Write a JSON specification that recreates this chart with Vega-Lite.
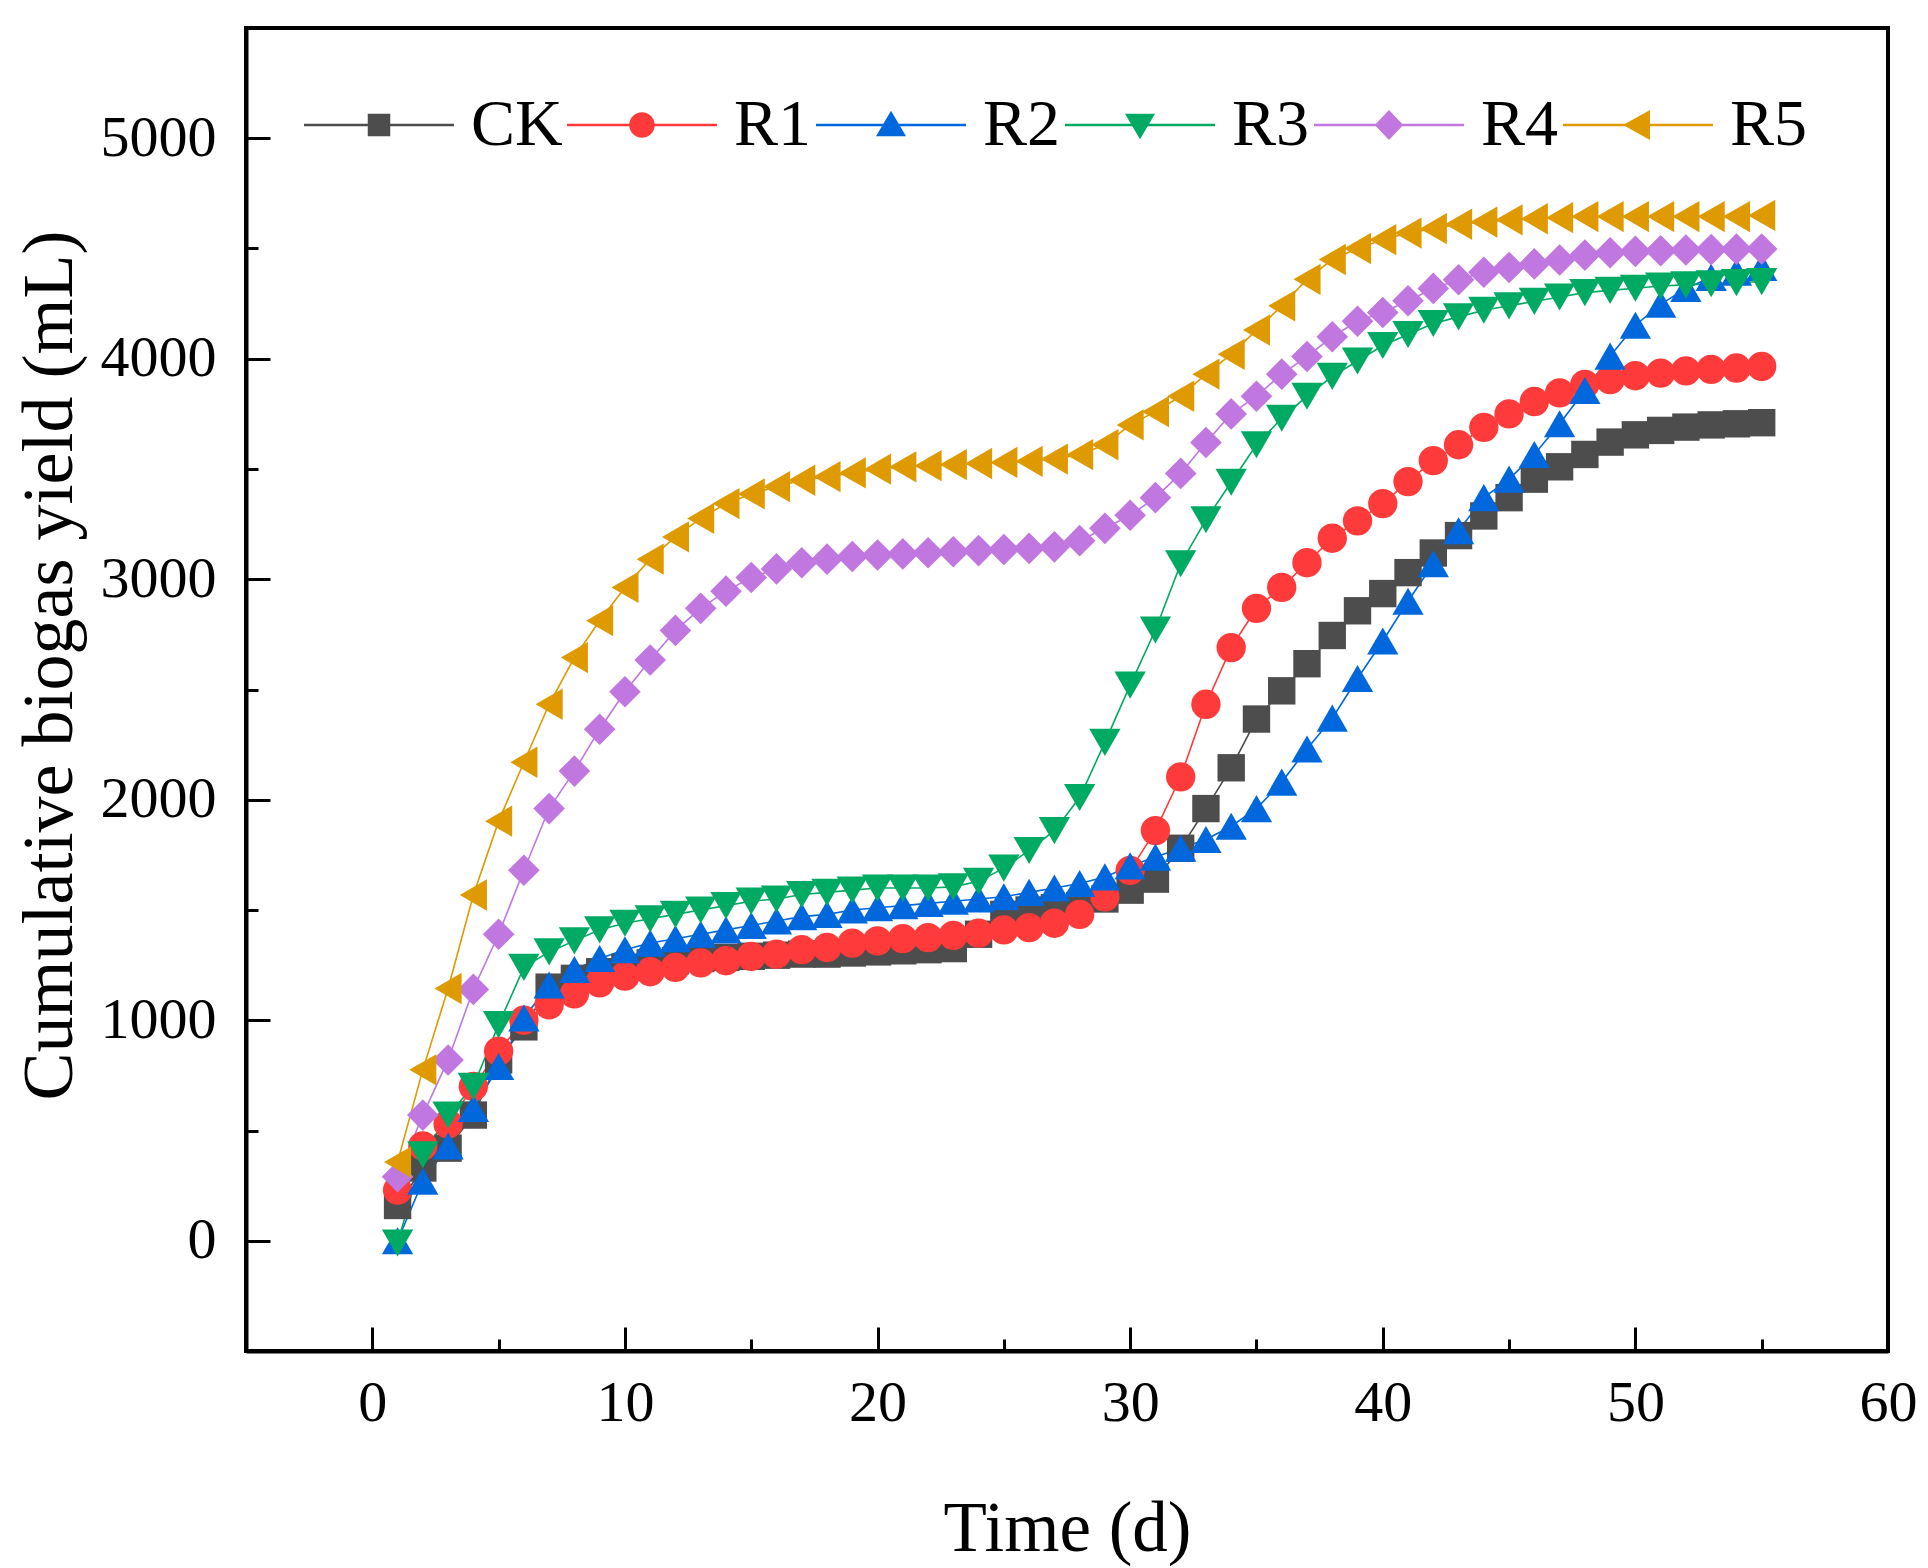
{
  "$schema": "https://vega.github.io/schema/vega-lite/v6.json",
  "width": 1642,
  "height": 1323,
  "autosize": {"type": "none"},
  "padding": {"left": 246, "top": 28, "right": 40, "bottom": 217},
  "background": "white",
  "config": {
    "view": {"stroke": "black", "strokeWidth": 4},
    "font": "Liberation Serif",
    "axis": {
      "grid": false,
      "domainColor": "black",
      "domainWidth": 4,
      "tickColor": "black",
      "tickWidth": 3,
      "labelFont": "Liberation Serif",
      "labelFontSize": 58,
      "labelColor": "black",
      "labelFlush": false,
      "labelOverlap": false,
      "labelBound": false,
      "titleFont": "Liberation Serif",
      "titleFontSize": 71,
      "titleFontWeight": "normal",
      "titleColor": "black"
    },
    "legend": {
      "labelFont": "Liberation Serif",
      "labelFontSize": 66,
      "labelColor": "black"
    }
  },
  "data": {
    "values": [
      {"series": "CK", "day": 1, "yield": 160}, {"series": "CK", "day": 2, "yield": 330}, {"series": "CK", "day": 3, "yield": 420}, {"series": "CK", "day": 4, "yield": 570}, {"series": "CK", "day": 5, "yield": 820},
      {"series": "CK", "day": 6, "yield": 970}, {"series": "CK", "day": 7, "yield": 1150}, {"series": "CK", "day": 8, "yield": 1190}, {"series": "CK", "day": 9, "yield": 1220}, {"series": "CK", "day": 10, "yield": 1240},
      {"series": "CK", "day": 11, "yield": 1260}, {"series": "CK", "day": 12, "yield": 1270}, {"series": "CK", "day": 13, "yield": 1280}, {"series": "CK", "day": 14, "yield": 1285}, {"series": "CK", "day": 15, "yield": 1290},
      {"series": "CK", "day": 16, "yield": 1295}, {"series": "CK", "day": 17, "yield": 1300}, {"series": "CK", "day": 18, "yield": 1300}, {"series": "CK", "day": 19, "yield": 1305}, {"series": "CK", "day": 20, "yield": 1310},
      {"series": "CK", "day": 21, "yield": 1315}, {"series": "CK", "day": 22, "yield": 1320}, {"series": "CK", "day": 23, "yield": 1325}, {"series": "CK", "day": 24, "yield": 1390}, {"series": "CK", "day": 25, "yield": 1480},
      {"series": "CK", "day": 26, "yield": 1500}, {"series": "CK", "day": 27, "yield": 1510}, {"series": "CK", "day": 28, "yield": 1520}, {"series": "CK", "day": 29, "yield": 1550}, {"series": "CK", "day": 30, "yield": 1590},
      {"series": "CK", "day": 31, "yield": 1640}, {"series": "CK", "day": 32, "yield": 1780}, {"series": "CK", "day": 33, "yield": 1960}, {"series": "CK", "day": 34, "yield": 2145}, {"series": "CK", "day": 35, "yield": 2366},
      {"series": "CK", "day": 36, "yield": 2494}, {"series": "CK", "day": 37, "yield": 2617}, {"series": "CK", "day": 38, "yield": 2745}, {"series": "CK", "day": 39, "yield": 2857}, {"series": "CK", "day": 40, "yield": 2935},
      {"series": "CK", "day": 41, "yield": 3030}, {"series": "CK", "day": 42, "yield": 3119}, {"series": "CK", "day": 43, "yield": 3198}, {"series": "CK", "day": 44, "yield": 3287}, {"series": "CK", "day": 45, "yield": 3370},
      {"series": "CK", "day": 46, "yield": 3454}, {"series": "CK", "day": 47, "yield": 3510}, {"series": "CK", "day": 48, "yield": 3566}, {"series": "CK", "day": 49, "yield": 3622}, {"series": "CK", "day": 50, "yield": 3655},
      {"series": "CK", "day": 51, "yield": 3675}, {"series": "CK", "day": 52, "yield": 3690}, {"series": "CK", "day": 53, "yield": 3700}, {"series": "CK", "day": 54, "yield": 3705}, {"series": "CK", "day": 55, "yield": 3710},

      {"series": "R1", "day": 1, "yield": 230}, {"series": "R1", "day": 2, "yield": 430}, {"series": "R1", "day": 3, "yield": 530}, {"series": "R1", "day": 4, "yield": 700}, {"series": "R1", "day": 5, "yield": 860},
      {"series": "R1", "day": 6, "yield": 1000}, {"series": "R1", "day": 7, "yield": 1070}, {"series": "R1", "day": 8, "yield": 1120}, {"series": "R1", "day": 9, "yield": 1170}, {"series": "R1", "day": 10, "yield": 1200},
      {"series": "R1", "day": 11, "yield": 1220}, {"series": "R1", "day": 12, "yield": 1240}, {"series": "R1", "day": 13, "yield": 1260}, {"series": "R1", "day": 14, "yield": 1270}, {"series": "R1", "day": 15, "yield": 1290},
      {"series": "R1", "day": 16, "yield": 1300}, {"series": "R1", "day": 17, "yield": 1320}, {"series": "R1", "day": 18, "yield": 1330}, {"series": "R1", "day": 19, "yield": 1350}, {"series": "R1", "day": 20, "yield": 1360},
      {"series": "R1", "day": 21, "yield": 1370}, {"series": "R1", "day": 22, "yield": 1375}, {"series": "R1", "day": 23, "yield": 1385}, {"series": "R1", "day": 24, "yield": 1395}, {"series": "R1", "day": 25, "yield": 1410},
      {"series": "R1", "day": 26, "yield": 1420}, {"series": "R1", "day": 27, "yield": 1440}, {"series": "R1", "day": 28, "yield": 1480}, {"series": "R1", "day": 29, "yield": 1560}, {"series": "R1", "day": 30, "yield": 1680},
      {"series": "R1", "day": 31, "yield": 1860}, {"series": "R1", "day": 32, "yield": 2104}, {"series": "R1", "day": 33, "yield": 2433}, {"series": "R1", "day": 34, "yield": 2690}, {"series": "R1", "day": 35, "yield": 2868},
      {"series": "R1", "day": 36, "yield": 2963}, {"series": "R1", "day": 37, "yield": 3075}, {"series": "R1", "day": 38, "yield": 3186}, {"series": "R1", "day": 39, "yield": 3265}, {"series": "R1", "day": 40, "yield": 3343},
      {"series": "R1", "day": 41, "yield": 3443}, {"series": "R1", "day": 42, "yield": 3538}, {"series": "R1", "day": 43, "yield": 3610}, {"series": "R1", "day": 44, "yield": 3689}, {"series": "R1", "day": 45, "yield": 3750},
      {"series": "R1", "day": 46, "yield": 3806}, {"series": "R1", "day": 47, "yield": 3845}, {"series": "R1", "day": 48, "yield": 3884}, {"series": "R1", "day": 49, "yield": 3905}, {"series": "R1", "day": 50, "yield": 3923},
      {"series": "R1", "day": 51, "yield": 3935}, {"series": "R1", "day": 52, "yield": 3945}, {"series": "R1", "day": 53, "yield": 3952}, {"series": "R1", "day": 54, "yield": 3958}, {"series": "R1", "day": 55, "yield": 3965},

      {"series": "R2", "day": 1, "yield": 0}, {"series": "R2", "day": 2, "yield": 270}, {"series": "R2", "day": 3, "yield": 430}, {"series": "R2", "day": 4, "yield": 600}, {"series": "R2", "day": 5, "yield": 790},
      {"series": "R2", "day": 6, "yield": 1010}, {"series": "R2", "day": 7, "yield": 1160}, {"series": "R2", "day": 8, "yield": 1230}, {"series": "R2", "day": 9, "yield": 1280}, {"series": "R2", "day": 10, "yield": 1320},
      {"series": "R2", "day": 11, "yield": 1350}, {"series": "R2", "day": 12, "yield": 1370}, {"series": "R2", "day": 13, "yield": 1390}, {"series": "R2", "day": 14, "yield": 1410}, {"series": "R2", "day": 15, "yield": 1430},
      {"series": "R2", "day": 16, "yield": 1450}, {"series": "R2", "day": 17, "yield": 1470}, {"series": "R2", "day": 18, "yield": 1480}, {"series": "R2", "day": 19, "yield": 1500}, {"series": "R2", "day": 20, "yield": 1510},
      {"series": "R2", "day": 21, "yield": 1520}, {"series": "R2", "day": 22, "yield": 1530}, {"series": "R2", "day": 23, "yield": 1540}, {"series": "R2", "day": 24, "yield": 1550}, {"series": "R2", "day": 25, "yield": 1560},
      {"series": "R2", "day": 26, "yield": 1580}, {"series": "R2", "day": 27, "yield": 1600}, {"series": "R2", "day": 28, "yield": 1620}, {"series": "R2", "day": 29, "yield": 1650}, {"series": "R2", "day": 30, "yield": 1700},
      {"series": "R2", "day": 31, "yield": 1740}, {"series": "R2", "day": 32, "yield": 1780}, {"series": "R2", "day": 33, "yield": 1820}, {"series": "R2", "day": 34, "yield": 1880}, {"series": "R2", "day": 35, "yield": 1960},
      {"series": "R2", "day": 36, "yield": 2080}, {"series": "R2", "day": 37, "yield": 2230}, {"series": "R2", "day": 38, "yield": 2370}, {"series": "R2", "day": 39, "yield": 2550}, {"series": "R2", "day": 40, "yield": 2720},
      {"series": "R2", "day": 41, "yield": 2900}, {"series": "R2", "day": 42, "yield": 3070}, {"series": "R2", "day": 43, "yield": 3220}, {"series": "R2", "day": 44, "yield": 3370}, {"series": "R2", "day": 45, "yield": 3454},
      {"series": "R2", "day": 46, "yield": 3566}, {"series": "R2", "day": 47, "yield": 3705}, {"series": "R2", "day": 48, "yield": 3856}, {"series": "R2", "day": 49, "yield": 4012}, {"series": "R2", "day": 50, "yield": 4152},
      {"series": "R2", "day": 51, "yield": 4247}, {"series": "R2", "day": 52, "yield": 4319}, {"series": "R2", "day": 53, "yield": 4369}, {"series": "R2", "day": 54, "yield": 4392}, {"series": "R2", "day": 55, "yield": 4414},

      {"series": "R3", "day": 1, "yield": -10}, {"series": "R3", "day": 2, "yield": 390}, {"series": "R3", "day": 3, "yield": 570}, {"series": "R3", "day": 4, "yield": 700}, {"series": "R3", "day": 5, "yield": 980},
      {"series": "R3", "day": 6, "yield": 1240}, {"series": "R3", "day": 7, "yield": 1310}, {"series": "R3", "day": 8, "yield": 1360}, {"series": "R3", "day": 9, "yield": 1410}, {"series": "R3", "day": 10, "yield": 1440},
      {"series": "R3", "day": 11, "yield": 1460}, {"series": "R3", "day": 12, "yield": 1480}, {"series": "R3", "day": 13, "yield": 1500}, {"series": "R3", "day": 14, "yield": 1520}, {"series": "R3", "day": 15, "yield": 1540},
      {"series": "R3", "day": 16, "yield": 1550}, {"series": "R3", "day": 17, "yield": 1570}, {"series": "R3", "day": 18, "yield": 1580}, {"series": "R3", "day": 19, "yield": 1590}, {"series": "R3", "day": 20, "yield": 1600},
      {"series": "R3", "day": 21, "yield": 1600}, {"series": "R3", "day": 22, "yield": 1600}, {"series": "R3", "day": 23, "yield": 1605}, {"series": "R3", "day": 24, "yield": 1630}, {"series": "R3", "day": 25, "yield": 1690},
      {"series": "R3", "day": 26, "yield": 1770}, {"series": "R3", "day": 27, "yield": 1860}, {"series": "R3", "day": 28, "yield": 2010}, {"series": "R3", "day": 29, "yield": 2260}, {"series": "R3", "day": 30, "yield": 2520},
      {"series": "R3", "day": 31, "yield": 2770}, {"series": "R3", "day": 32, "yield": 3070}, {"series": "R3", "day": 33, "yield": 3270}, {"series": "R3", "day": 34, "yield": 3440}, {"series": "R3", "day": 35, "yield": 3610},
      {"series": "R3", "day": 36, "yield": 3730}, {"series": "R3", "day": 37, "yield": 3830}, {"series": "R3", "day": 38, "yield": 3920}, {"series": "R3", "day": 39, "yield": 3990}, {"series": "R3", "day": 40, "yield": 4060},
      {"series": "R3", "day": 41, "yield": 4110}, {"series": "R3", "day": 42, "yield": 4160}, {"series": "R3", "day": 43, "yield": 4190}, {"series": "R3", "day": 44, "yield": 4220}, {"series": "R3", "day": 45, "yield": 4240},
      {"series": "R3", "day": 46, "yield": 4260}, {"series": "R3", "day": 47, "yield": 4280}, {"series": "R3", "day": 48, "yield": 4300}, {"series": "R3", "day": 49, "yield": 4310}, {"series": "R3", "day": 50, "yield": 4320},
      {"series": "R3", "day": 51, "yield": 4330}, {"series": "R3", "day": 52, "yield": 4335}, {"series": "R3", "day": 53, "yield": 4340}, {"series": "R3", "day": 54, "yield": 4345}, {"series": "R3", "day": 55, "yield": 4350},

      {"series": "R4", "day": 1, "yield": 290}, {"series": "R4", "day": 2, "yield": 570}, {"series": "R4", "day": 3, "yield": 820}, {"series": "R4", "day": 4, "yield": 1140}, {"series": "R4", "day": 5, "yield": 1390},
      {"series": "R4", "day": 6, "yield": 1680}, {"series": "R4", "day": 7, "yield": 1960}, {"series": "R4", "day": 8, "yield": 2130}, {"series": "R4", "day": 9, "yield": 2320}, {"series": "R4", "day": 10, "yield": 2490},
      {"series": "R4", "day": 11, "yield": 2634}, {"series": "R4", "day": 12, "yield": 2768}, {"series": "R4", "day": 13, "yield": 2868}, {"series": "R4", "day": 14, "yield": 2946}, {"series": "R4", "day": 15, "yield": 3008},
      {"series": "R4", "day": 16, "yield": 3047}, {"series": "R4", "day": 17, "yield": 3075}, {"series": "R4", "day": 18, "yield": 3091}, {"series": "R4", "day": 19, "yield": 3103}, {"series": "R4", "day": 20, "yield": 3110},
      {"series": "R4", "day": 21, "yield": 3115}, {"series": "R4", "day": 22, "yield": 3120}, {"series": "R4", "day": 23, "yield": 3125}, {"series": "R4", "day": 24, "yield": 3130}, {"series": "R4", "day": 25, "yield": 3135},
      {"series": "R4", "day": 26, "yield": 3140}, {"series": "R4", "day": 27, "yield": 3147}, {"series": "R4", "day": 28, "yield": 3175}, {"series": "R4", "day": 29, "yield": 3231}, {"series": "R4", "day": 30, "yield": 3290},
      {"series": "R4", "day": 31, "yield": 3370}, {"series": "R4", "day": 32, "yield": 3480}, {"series": "R4", "day": 33, "yield": 3620}, {"series": "R4", "day": 34, "yield": 3750}, {"series": "R4", "day": 35, "yield": 3830},
      {"series": "R4", "day": 36, "yield": 3930}, {"series": "R4", "day": 37, "yield": 4010}, {"series": "R4", "day": 38, "yield": 4100}, {"series": "R4", "day": 39, "yield": 4170}, {"series": "R4", "day": 40, "yield": 4210},
      {"series": "R4", "day": 41, "yield": 4263}, {"series": "R4", "day": 42, "yield": 4319}, {"series": "R4", "day": 43, "yield": 4358}, {"series": "R4", "day": 44, "yield": 4392}, {"series": "R4", "day": 45, "yield": 4414},
      {"series": "R4", "day": 46, "yield": 4430}, {"series": "R4", "day": 47, "yield": 4448}, {"series": "R4", "day": 48, "yield": 4470}, {"series": "R4", "day": 49, "yield": 4481}, {"series": "R4", "day": 50, "yield": 4487},
      {"series": "R4", "day": 51, "yield": 4490}, {"series": "R4", "day": 52, "yield": 4493}, {"series": "R4", "day": 53, "yield": 4495}, {"series": "R4", "day": 54, "yield": 4497}, {"series": "R4", "day": 55, "yield": 4498},

      {"series": "R5", "day": 1, "yield": 357}, {"series": "R5", "day": 2, "yield": 775}, {"series": "R5", "day": 3, "yield": 1144}, {"series": "R5", "day": 4, "yield": 1568}, {"series": "R5", "day": 5, "yield": 1903},
      {"series": "R5", "day": 6, "yield": 2170}, {"series": "R5", "day": 7, "yield": 2433}, {"series": "R5", "day": 8, "yield": 2645}, {"series": "R5", "day": 9, "yield": 2812}, {"series": "R5", "day": 10, "yield": 2963},
      {"series": "R5", "day": 11, "yield": 3091}, {"series": "R5", "day": 12, "yield": 3192}, {"series": "R5", "day": 13, "yield": 3276}, {"series": "R5", "day": 14, "yield": 3343}, {"series": "R5", "day": 15, "yield": 3387},
      {"series": "R5", "day": 16, "yield": 3420}, {"series": "R5", "day": 17, "yield": 3449}, {"series": "R5", "day": 18, "yield": 3465}, {"series": "R5", "day": 19, "yield": 3482}, {"series": "R5", "day": 20, "yield": 3499},
      {"series": "R5", "day": 21, "yield": 3510}, {"series": "R5", "day": 22, "yield": 3515}, {"series": "R5", "day": 23, "yield": 3520}, {"series": "R5", "day": 24, "yield": 3525}, {"series": "R5", "day": 25, "yield": 3530},
      {"series": "R5", "day": 26, "yield": 3535}, {"series": "R5", "day": 27, "yield": 3545}, {"series": "R5", "day": 28, "yield": 3565}, {"series": "R5", "day": 29, "yield": 3610}, {"series": "R5", "day": 30, "yield": 3700},
      {"series": "R5", "day": 31, "yield": 3760}, {"series": "R5", "day": 32, "yield": 3830}, {"series": "R5", "day": 33, "yield": 3930}, {"series": "R5", "day": 34, "yield": 4020}, {"series": "R5", "day": 35, "yield": 4130},
      {"series": "R5", "day": 36, "yield": 4240}, {"series": "R5", "day": 37, "yield": 4360}, {"series": "R5", "day": 38, "yield": 4450}, {"series": "R5", "day": 39, "yield": 4500}, {"series": "R5", "day": 40, "yield": 4540},
      {"series": "R5", "day": 41, "yield": 4570}, {"series": "R5", "day": 42, "yield": 4590}, {"series": "R5", "day": 43, "yield": 4610}, {"series": "R5", "day": 44, "yield": 4620}, {"series": "R5", "day": 45, "yield": 4630},
      {"series": "R5", "day": 46, "yield": 4635}, {"series": "R5", "day": 47, "yield": 4640}, {"series": "R5", "day": 48, "yield": 4645}, {"series": "R5", "day": 49, "yield": 4645}, {"series": "R5", "day": 50, "yield": 4645},
      {"series": "R5", "day": 51, "yield": 4645}, {"series": "R5", "day": 52, "yield": 4645}, {"series": "R5", "day": 53, "yield": 4645}, {"series": "R5", "day": 54, "yield": 4645}, {"series": "R5", "day": 55, "yield": 4650}
    ]
  },
  "encoding": {
    "color": {
      "field": "series",
      "type": "nominal",
      "title": null,
      "scale": {
        "domain": ["CK", "R1", "R2", "R3", "R4", "R5"],
        "range": ["#4d4d4d", "#fe3a3a", "#0068dc", "#00aa62", "#c077df", "#de9a00"]
      },
      "legend": {
        "orient": "none",
        "legendX": 100,
        "legendY": 64,
        "direction": "horizontal",
        "columns": 6,
        "columnPadding": 4,
        "symbolSize": 900,
        "labelOffset": 59,
        "labelBaseline": "middle",
        "encode": {
          "symbols": {
            "update": {
              "strokeWidth": {"value": 0},
              "opacity": {"value": 1},
              "shape": {"signal": "datum.value === 'CK' ? 'M-5,-0.08H5V0.08H-5Z M-0.75,-0.75H0.75V0.75H-0.75Z' : datum.value === 'R1' ? 'M-5,-0.08H5V0.08H-5Z M-0.85,0A0.85,0.85,0,1,1,0.85,0A0.85,0.85,0,1,1,-0.85,0Z' : datum.value === 'R2' ? 'M-5,-0.08H5V0.08H-5Z M0,-0.95L1,0.75H-1Z' : datum.value === 'R3' ? 'M-5,-0.08H5V0.08H-5Z M0,0.95L-1,-0.75H1Z' : datum.value === 'R4' ? 'M-5,-0.08H5V0.08H-5Z M0,-1L0.95,0L0,1L-0.95,0Z' : 'M-5,-0.08H5V0.08H-5Z M-1,0L0.8,-1V1Z'"}
            }
          }
        }
      }
    }
  },
  "layer": [
    {
      "mark": {"type": "line", "strokeWidth": 1.6},
      "encoding": {
        "x": {
          "field": "day",
          "type": "quantitative",
          "title": "Time (d)",
          "scale": {"domain": [-5, 60], "nice": false, "zero": false},
          "axis": {
            "orient": "bottom",
            "values": [0, 10, 20, 30, 40, 50, 60],
            "ticks": false,
            "labelPadding": 23,
            "titlePadding": 62
          }
        },
        "y": {
          "field": "yield",
          "type": "quantitative",
          "title": "Cumulative biogas yield (mL)",
          "scale": {"domain": [-500, 5500], "nice": false, "zero": false},
          "axis": {
            "orient": "left",
            "values": [0, 1000, 2000, 3000, 4000, 5000],
            "format": "d",
            "ticks": false,
            "labelPadding": 30,
            "titlePadding": 14,
            "titleFontSize": 72,
            "titleY": 637
          }
        }
      }
    },
    {
      "encoding": {
        "x": {
          "field": "day",
          "type": "quantitative",
          "axis": {
            "orient": "bottom",
            "values": [0.002, 5, 10.002, 15, 20.002, 25, 30.002, 35, 40.002, 45, 50.002, 55],
            "tickSize": {"condition": {"test": "datum.value % 5 !== 0", "value": -24}, "value": -12},
            "labels": false,
            "domain": false,
            "title": null
          }
        },
        "y": {
          "field": "yield",
          "type": "quantitative",
          "axis": {
            "orient": "left",
            "values": [0.2, 500, 1000.2, 1500, 2000.2, 2500, 3000.2, 3500, 4000.2, 4500, 5000.2],
            "tickSize": {"condition": {"test": "datum.value % 500 !== 0", "value": -24}, "value": -12},
            "labels": false,
            "domain": false,
            "title": null
          }
        }
      },
      "layer": [
        {"transform": [{"filter": "datum.series === 'CK'"}], "mark": {"type": "point", "shape": "square", "filled": true, "opacity": 1, "size": 750}},
        {"transform": [{"filter": "datum.series === 'R1'"}], "mark": {"type": "point", "shape": "circle", "filled": true, "opacity": 1, "size": 860}},
        {"transform": [{"filter": "datum.series === 'R2'"}], "mark": {"type": "point", "shape": "triangle-up", "filled": true, "opacity": 1, "size": 980}},
        {"transform": [{"filter": "datum.series === 'R3'"}], "mark": {"type": "point", "shape": "triangle-down", "filled": true, "opacity": 1, "size": 980}},
        {"transform": [{"filter": "datum.series === 'R4'"}], "mark": {"type": "point", "shape": "diamond", "filled": true, "opacity": 1, "size": 1000}},
        {"transform": [{"filter": "datum.series === 'R5'"}], "mark": {"type": "point", "shape": "triangle-left", "filled": true, "opacity": 1, "size": 980}}
      ]
    }
  ],
  "resolve": {"axis": {"x": "independent", "y": "independent"}}
}
